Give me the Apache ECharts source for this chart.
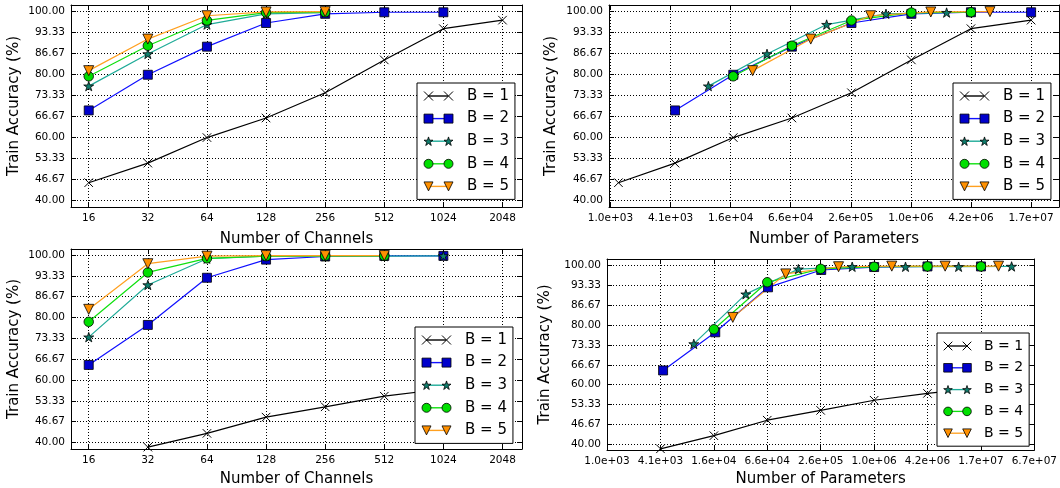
<!DOCTYPE html>
<html>
<head>
<meta charset="utf-8">
<script src="https://cdn.jsdelivr.net/npm/echarts@6/dist/echarts.min.js"></script>
<style>
html, body { margin: 0; padding: 0; background: #fff; }
#chart { width: 1060px; height: 488px; }
</style>
</head>
<body>
<div id="chart"></div>
<script>
// legend names
const names = ['B = 1', 'B = 2', 'B = 3', 'B = 4', 'B = 5']

// tick values
const channelTicks = [16, 32, 64, 128, 256, 512, 1024, 2048]
const paramTicksTop = [1024, 4096, 16384, 65536, 262144, 1048576, 4194304, 16777216]
const paramTicksBottom = [1024, 4096, 16384, 65536, 262144, 1048576, 4194304, 16777216, 67108864]
const accTicks = [40.00, 46.67, 53.33, 60.00, 66.67, 73.33, 80.00, 86.67, 93.33, 100.00]

// top row (B = 1 .. 5)
const topChannels = [
    [16, 32, 64, 128, 256, 512, 1024, 2048],
    [16, 32, 64, 128, 256, 512, 1024],
    [16, 32, 64, 128, 256],
    [16, 32, 64, 128, 256],
    [16, 32, 64, 128, 256]
]
const topParams = [
    [1.23e3, 4.54e3, 1.74e4, 6.73e4, 2.66e5, 1.06e6, 4.19e6, 1.68e7],
    [4.54e3, 1.74e4, 6.73e4, 2.66e5, 1.06e6, 4.19e6, 1.68e7],
    [9.8e3, 3.79e4, 1.5e5, 5.9e5, 2.39e6],
    [1.74e4, 6.73e4, 2.66e5, 1.06e6, 4.19e6],
    [2.72e4, 1.04e5, 4.14e5, 1.66e6, 6.5e6]
]
const topAcc = [
    [45.6, 51.8, 59.9, 66.1, 74.1, 84.5, 94.4, 97.1],
    [68.5, 79.8, 88.7, 96.2, 99.1, 99.6, 99.6],
    [76.2, 86.4, 95.7, 99.1, 99.5],
    [79.3, 89.0, 97.0, 99.5, 99.6],
    [81.1, 91.1, 98.5, 99.7, 99.8]
]

// bottom row (B = 1 .. 5)
const bottomChannels = [
    [32, 64, 128, 256, 512, 1024, 2048],
    [16, 32, 64, 128, 256, 512, 1024],
    [16, 32, 64, 128, 256, 512, 1024],
    [16, 32, 64, 128, 256, 512],
    [16, 32, 64, 128, 256, 512]
]
const bottomParams = [
    [4.1e3, 1.64e4, 6.55e4, 2.62e5, 1.05e6, 4.19e6, 1.68e7],
    [4.39e3, 1.7e4, 6.69e4, 2.66e5, 1.05e6, 4.19e6, 1.68e7],
    [9.74e3, 3.76e4, 1.47e5, 5.94e5, 2.37e6, 9.4e6, 3.72e7],
    [1.64e4, 6.55e4, 2.62e5, 1.05e6, 4.19e6, 1.68e7],
    [2.68e4, 1.06e5, 4.17e5, 1.66e6, 6.63e6, 2.65e7]
]
const bottomAcc = [
    [38.5, 42.9, 48.1, 51.4, 54.8, 57.1, 59.0],
    [64.8, 77.6, 92.7, 98.5, 99.5, 99.7, 99.7],
    [73.7, 90.4, 98.8, 99.6, 99.6, 99.6, 99.7],
    [78.6, 94.4, 98.9, 99.6, 99.7, 99.7],
    [82.6, 97.2, 99.6, 99.8, 99.8, 99.8]
]

const font = 'DejaVu Sans'
const lineColors = ['#000000', '#1010ff', '#1fab98', '#10e010', '#ffa020']
const fillColors = ['#000000', '#0000cc', '#0e7d6c', '#00e000', '#ff9000']
const symbols = [
    'path://M0,0L10,10M10,0L0,10',
    'rect',
    'path://M50,0L61.2,34.5L97.6,34.5L68.2,55.9L79.4,90.5L50,69.1L20.6,90.5L31.8,55.9L2.4,34.5L38.8,34.5Z',
    'circle',
    'path://M0,0L10,0L5,10Z'
]
const symbolSizes = [8.5, 9, 10, 9.5, 10]
// thin bar inside a 20x9 box, used as the legend line
const legendLineIcon = 'path://M0,0L0,0M0,9L0,9M0,3.8L20,3.8L20,5.2L0,5.2Z'

let myChart = echarts.init(document.getElementById('chart'))
let option = { animation: false, grid: [], xAxis: [], yAxis: [], legend: [], series: [] }

function fmtChannels(v) {
    return String(Math.round(Math.pow(2, v)))
}
function fmtParams(v) {
    return Math.pow(2, v).toExponential(1).replace(/e([+-])(\d)$/, 'e$10$2')
}

// matplotlib style legend: marker - line - marker, then the text, inside a box
function addLegend(g) {
    let text = { fontFamily: font, fontSize: g.font, color: '#000', lineHeight: 16 }
    let common = { orient: 'vertical', selectedMode: false, itemHeight: 9, itemGap: g.pitch - 16, padding: 0 }
    option.legend.push(Object.assign({}, common, {
        left: g.left, top: g.top, padding: [5, 6, 5, 6],
        data: names.map(n => ({ name: n, icon: 'none' })),
        itemWidth: g.textX - g.left - 11,
        borderColor: '#000', borderWidth: 1, borderRadius: 0, backgroundColor: '#fff',
        textStyle: text
    }))
    option.legend.push(Object.assign({}, common, {
        left: g.m1, top: g.top + 5, z: 5,
        data: names.map((n, i) => ({ name: n, icon: legendLineIcon, itemStyle: { color: lineColors[i], borderWidth: 0 } })),
        itemWidth: g.m2 - g.m1, formatter: () => ' ', textStyle: text
    }))
    for (let m of [g.m1, g.m2]) {
        option.legend.push(Object.assign({}, common, {
            left: m - g.size / 2, top: g.top + 5, z: 6,
            itemWidth: g.size, itemHeight: g.size, itemGap: g.pitch - 16,
            data: names.map((n, i) => ({
                name: n, icon: symbols[i],
                itemStyle: { borderWidth: i === 0 ? 1 : 0.8, borderColor: '#000' }
            })),
            formatter: () => ' ', textStyle: text
        }))
    }
}

function addPanel(p) {
    let gi = option.grid.length
    option.grid.push({ left: p.left, top: p.top, width: p.width, height: p.height })
    let xt = p.xTicks.map(v => Math.log2(v))
    let line = { show: true, onZero: false, lineStyle: { color: '#000', width: 1 } }
    let grid = { show: true, lineStyle: { color: '#000', width: 1, type: [1, 2] } }
    let label = { fontFamily: font, fontSize: 10.5, color: '#000' }
    let nameStyle = { fontFamily: font, fontSize: 15, color: '#000' }
    let tick = { inside: true, length: 5, lineStyle: { color: '#000' } }
    option.xAxis.push({
        gridIndex: gi, type: 'value', position: 'bottom', min: p.xMin, max: p.xMax,
        name: p.xName, nameLocation: 'middle', nameGap: p.xNameGap, nameTextStyle: nameStyle,
        axisLine: line,
        axisTick: Object.assign({ customValues: xt }, tick),
        axisLabel: Object.assign({ customValues: xt, margin: 6, formatter: p.xFmt }, label),
        splitLine: grid
    })
    option.xAxis.push({
        gridIndex: gi, type: 'value', position: 'top', min: p.xMin, max: p.xMax,
        axisLine: line,
        axisTick: Object.assign({ customValues: xt }, tick),
        axisLabel: { show: false }, splitLine: { show: false }
    })
    option.yAxis.push({
        gridIndex: gi, type: 'value', position: 'left', min: p.yMin, max: p.yMax,
        name: 'Train Accuracy (%)', nameLocation: 'middle', nameGap: p.yNameGap, nameTextStyle: nameStyle,
        axisLine: line,
        axisTick: Object.assign({ customValues: accTicks }, tick),
        axisLabel: Object.assign({ customValues: accTicks, margin: 6, formatter: v => v.toFixed(2) }, label),
        splitLine: grid
    })
    option.yAxis.push({
        gridIndex: gi, type: 'value', position: 'right', min: p.yMin, max: p.yMax,
        axisLine: line,
        axisTick: Object.assign({ customValues: accTicks }, tick),
        axisLabel: { show: false }, splitLine: { show: false }
    })
    for (let i = 0; i < names.length; i++) {
        let xs = p.xs[i], ys = p.ys[i]
        option.series.push({
            name: names[i], type: 'line', xAxisIndex: gi * 2, yAxisIndex: gi * 2,
            data: xs.map((x, k) => [Math.log2(x), ys[k]]),
            symbol: symbols[i], symbolSize: symbolSizes[i], symbolKeepAspect: true,
            showAllSymbol: true,
            lineStyle: { color: lineColors[i], width: 1.2 },
            itemStyle: i === 0
                ? { color: '#000', borderColor: '#000', borderWidth: 1 }
                : { color: fillColors[i], borderColor: '#000', borderWidth: 0.8 },
            emphasis: { disabled: true }
        })
    }
    addLegend(p.legend)
}

addPanel({
    left: 71, top: 5, width: 451, height: 202,
    xMin: 3.70, xMax: 11.33, yMin: 37.9, yMax: 101.9,
    xTicks: channelTicks, xFmt: fmtChannels, xName: 'Number of Channels', xNameGap: 25, yNameGap: 49,
    xs: topChannels, ys: topAcc,
    legend: { left: 417, top: 83, m1: 428, m2: 448, textX: 467, pitch: 22.6, size: 9, font: 15 }
})
addPanel({
    left: 609, top: 5, width: 450, height: 202,
    xMin: 9.95, xMax: 24.93, yMin: 37.9, yMax: 101.9,
    xTicks: paramTicksTop, xFmt: fmtParams, xName: 'Number of Parameters', xNameGap: 25, yNameGap: 50,
    xs: topParams, ys: topAcc,
    legend: { left: 953, top: 83, m1: 964, m2: 984, textX: 1003, pitch: 22.6, size: 9, font: 15 }
})
addPanel({
    left: 71, top: 249, width: 451, height: 202,
    xMin: 3.70, xMax: 11.33, yMin: 37.9, yMax: 101.9,
    xTicks: channelTicks, xFmt: fmtChannels, xName: 'Number of Channels', xNameGap: 23, yNameGap: 49,
    xs: bottomChannels, ys: bottomAcc,
    legend: { left: 415, top: 327, m1: 426, m2: 446, textX: 465, pitch: 22.6, size: 9, font: 15 }
})
addPanel({
    left: 607, top: 259, width: 432, height: 193,
    xMin: 10, xMax: 26, yMin: 38.1, yMax: 102.2,
    xTicks: paramTicksBottom, xFmt: fmtParams, xName: 'Number of Parameters', xNameGap: 22, yNameGap: 54,
    xs: bottomParams, ys: bottomAcc,
    legend: { left: 937, top: 333, m1: 947.5, m2: 966.5, textX: 984, pitch: 21.8, size: 8.6, font: 14 }
})

myChart.setOption(option)
</script>
</body>
</html>
